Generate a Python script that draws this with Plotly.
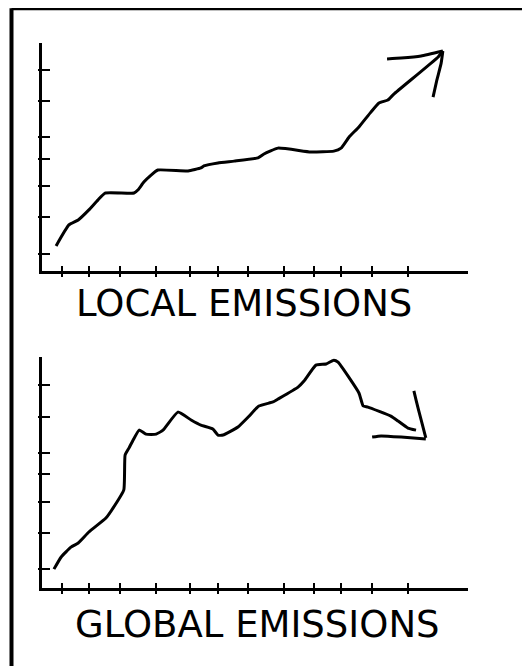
import plotly.graph_objects as go

# local emissions (arbitrary units, time on x)
local_t = [3.3, 6.3, 8.5, 11.0, 13.1, 14.8, 21.6, 22.5, 23.9, 25.6, 27.2, 34.3, 37.3, 38.0,
           41.3, 45.1, 50.7, 52.1, 55.4, 63.1, 68.5, 70.2, 72.1, 74.4, 77.2, 79.1, 81.2,
           82.6, 93.0, 94.1]
local_e = [11.0, 20.2, 22.4, 26.8, 31.1, 34.2, 34.2, 35.5, 39.0, 42.1, 44.3, 43.9, 45.2, 46.1,
           47.4, 48.2, 49.6, 51.3, 53.9, 52.2, 52.6, 53.9, 58.8, 63.2, 69.7, 73.7, 75.0,
           77.6, 93.9, 96.5]
local_head1_t = [81.0, 84.3, 89.0, 94.1]
local_head1_e = [93.0, 93.4, 94.3, 96.5]
local_head2_t = [94.1, 93.7, 92.7, 91.8]
local_head2_e = [96.5, 91.2, 83.8, 76.3]

# global emissions
global_t = [2.8, 4.5, 6.8, 8.5, 11.0, 15.0, 16.7, 19.2, 19.5, 20.4, 21.4, 22.8, 24.4, 26.8,
            28.4, 31.9, 35.0, 37.3, 40.1, 41.3, 42.5, 46.0, 48.4, 50.9, 54.2, 55.4, 60.1,
            61.5, 64.3, 66.7, 68.5, 69.5, 74.4, 75.4, 76.5, 81.9, 83.6, 85.9, 87.8]
global_e = [8.4, 13.8, 18.2, 20.0, 24.9, 31.1, 35.6, 43.6, 59.1, 62.2, 65.8, 70.2, 68.4, 68.4,
            70.2, 78.2, 74.7, 72.4, 70.7, 68.0, 68.0, 71.6, 76.0, 80.9, 82.7, 84.0, 89.3,
            92.0, 99.1, 99.6, 101.3, 100.4, 86.7, 80.9, 80.4, 76.4, 74.2, 71.1, 70.2]
global_head1_t = [87.3, 87.8, 89.0, 90.1]
global_head1_e = [87.6, 83.6, 74.7, 66.7]
global_head2_t = [77.5, 79.6, 84.3, 90.1]
global_head2_e = [67.1, 67.6, 67.1, 66.2]

# hand drawn tick positions
x_ticks = [4.7, 11.0, 18.3, 26.8, 34.7, 41.3, 48.4, 56.8, 63.8, 70.2, 77.5, 85.9]
local_y_ticks = [7.5, 23.7, 37.3, 49.1, 58.8, 74.6, 88.2]
global_y_ticks = [8.4, 24.4, 38.2, 50.7, 60.0, 76.0, 90.2]

labels = ['LOCAL EMISSIONS', 'GLOBAL EMISSIONS']

ink = 'black'
pen = dict(color=ink, width=3, shape='spline', smoothing=0.4)

fig = go.Figure()
for xs, ys, ax in [(local_t, local_e, 'y'), (local_head1_t, local_head1_e, 'y'),
                   (local_head2_t, local_head2_e, 'y'),
                   (global_t, global_e, 'y2'), (global_head1_t, global_head1_e, 'y2'),
                   (global_head2_t, global_head2_e, 'y2')]:
    fig.add_trace(go.Scatter(x=xs, y=ys, mode='lines', line=pen,
                             xaxis='x' if ax == 'y' else 'x2', yaxis=ax,
                             hoverinfo='skip', showlegend=False))

# empty traces so the overlay axes (other half of the crossing ticks) get drawn
fig.add_trace(go.Scatter(x=[None], y=[None], xaxis='x3', yaxis='y3', showlegend=False))
fig.add_trace(go.Scatter(x=[None], y=[None], xaxis='x4', yaxis='y4', showlegend=False))

xdom = [0.0642, 0.8679]
top_dom = [0.6051, 0.9474]
bot_dom = [0.1291, 0.4760]
bot_range = [0, 102.7]

def xax(anchor, ticks, length, line=True):
    return dict(domain=xdom, range=[0, 100], anchor=anchor, showline=line, linecolor=ink,
                linewidth=3, ticks=ticks, ticklen=length, tickwidth=2, tickcolor=ink,
                tickvals=x_ticks, showticklabels=False, showgrid=False, zeroline=False,
                fixedrange=True)

def yax(anchor, dom, rng, tv, ticks, length, line=True):
    return dict(domain=dom, range=rng, anchor=anchor, showline=line, linecolor=ink,
                linewidth=3, ticks=ticks, ticklen=length, tickwidth=2, tickcolor=ink,
                tickvals=tv, showticklabels=False, showgrid=False, zeroline=False,
                fixedrange=True)

label_font = dict(family='DejaVu Sans', size=37, color=ink)

fig.update_layout(
    width=530, height=666,
    margin=dict(l=0, r=0, t=0, b=0),
    paper_bgcolor='white', plot_bgcolor='white',
    xaxis=xax('y', 'inside', 5),
    yaxis=yax('x', top_dom, [0, 100], local_y_ticks, 'inside', 8),
    xaxis2=xax('y2', 'inside', 5),
    yaxis2=yax('x2', bot_dom, bot_range, global_y_ticks, 'inside', 8),
    xaxis3=dict(xax('y3', 'outside', 5, False), overlaying='x'),
    yaxis3=dict(yax('x3', top_dom, [0, 100], local_y_ticks, 'outside', 3, False), overlaying='y'),
    xaxis4=dict(xax('y4', 'outside', 5, False), overlaying='x2'),
    yaxis4=dict(yax('x4', bot_dom, bot_range, global_y_ticks, 'outside', 3, False), overlaying='y2'),
    shapes=[
        dict(type='line', xref='paper', yref='paper', x0=0.0066, x1=1.0, y0=0.9995, y1=0.9995,
             line=dict(color=ink, width=4)),
        dict(type='line', xref='paper', yref='paper', x0=0.0066, x1=0.0066, y0=0.0, y1=0.9995,
             line=dict(color=ink, width=4)),
    ],
    annotations=[
        dict(text=labels[0], xref='paper', yref='paper', x=0.445, y=0.557, showarrow=False,
             xanchor='center', yanchor='middle', font=label_font),
        dict(text=labels[1], xref='paper', yref='paper', x=0.470, y=0.075, showarrow=False,
             xanchor='center', yanchor='middle', font=label_font),
    ],
)

fig.write_html("out.html")
